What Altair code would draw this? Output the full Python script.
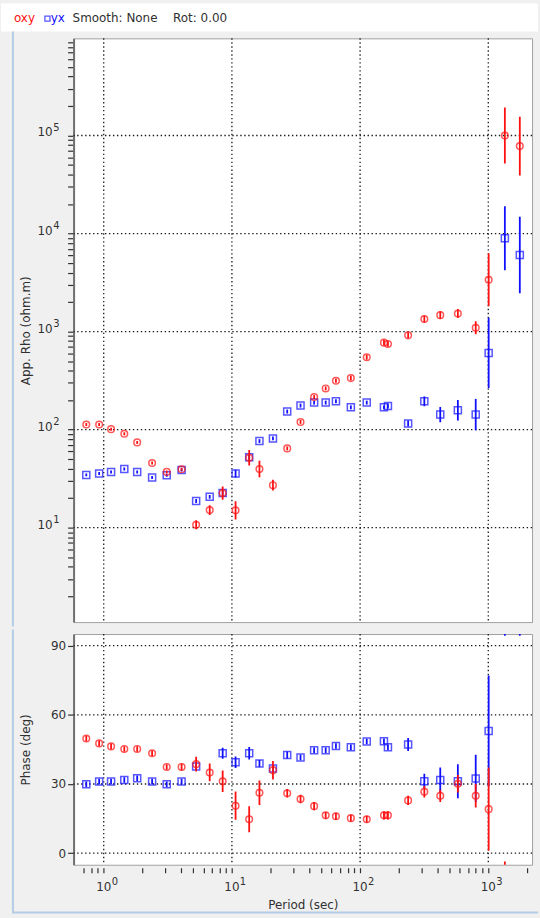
import altair as alt
import pandas as pd

# ---- sounding data -------------------------------------------------------
periods = [0.731, 0.921, 1.141, 1.447, 1.824, 2.385, 3.10, 4.05, 5.26, 6.71,
           8.47, 10.68, 13.64, 16.4, 20.9, 27.0, 34.3, 43.8, 53.9, 64.8,
           84.7, 112.7, 153.5, 164.9, 237, 317, 422, 579, 798, 1007, 1347, 1762]

# apparent resistivity (ohm.m) and its half error in decades
rho_xy = [112.8, 112.8, 101, 90.6, 74, 45.6, 37, 39.4, 10.7, 15.1,
          22.5, 15.0, 51.6, 39.6, 27.1, 64.3, 119.7, 214.7, 263, 315,
          335, 547, 771, 748, 915, 1341, 1471, 1529, 1094, 3381, 100000, 78000]
rho_xy_err = [0.015, 0.015, 0.015, 0.015, 0.015, 0.015, 0.015, 0.015, 0.045, 0.05,
              0.067, 0.093, 0.08, 0.085, 0.055, 0.02, 0.02, 0.02, 0.02, 0.02,
              0.025, 0.025, 0.03, 0.03, 0.03, 0.035, 0.04, 0.045, 0.066, 0.27, 0.285, 0.30]
rho_yx = [34.5, 35.6, 37, 39.7, 37, 32.4, 34.2, 38.7, 18.7, 20.6,
          22.5, 35.6, 52.1, 76.3, 81.3, 152.7, 175.8, 188.5, 188.5, 194.2,
          168.6, 188.5, 168.6, 174.2, 115.4, 194.2, 142.2, 157.3, 142.2, 605, 8950, 6050]
rho_yx_err = [0.015, 0.015, 0.015, 0.015, 0.015, 0.015, 0.015, 0.015, 0.02, 0.02,
              0.03, 0.04, 0.025, 0.02, 0.02, 0.02, 0.02, 0.02, 0.02, 0.02,
              0.02, 0.02, 0.02, 0.025, 0.03, 0.05, 0.078, 0.105, 0.16, 0.36, 0.326, 0.39]

# impedance phase (deg) and its half error
phase_xy = [49.7, 47.6, 46.3, 45.2, 45.2, 43.3, 37.4, 37.4, 38.6, 35.0,
            31.2, 20.6, 14.7, 26.2, 36.0, 26.0, 23.5, 20.4, 16.4, 16.0,
            15.2, 14.7, 16.4, 16.4, 22.9, 26.6, 24.9, 30.1, 24.9, 19.1, -20.0, -40.0]
phase_xy_err = [1.2, 1.2, 1.2, 1.2, 1.2, 1.2, 1.2, 1.5, 3.2, 3.85,
                4.7, 6.15, 5.65, 5.3, 4.0, 1.8, 1.8, 1.8, 1.5, 1.5,
                1.5, 1.5, 1.8, 1.8, 2.0, 2.5, 2.65, 3.8, 5.05, 18.0, 16.4, 10.0]
phase_yx = [29.9, 31.1, 31.1, 31.7, 32.5, 31.1, 29.9, 31.1, 37.6, None,
            43.3, 39.4, 43.3, 38.9, 36.7, 42.6, 41.5, 44.6, 44.6, 46.5,
            45.9, 48.4, 48.5, 45.9, 47.1, 31.2, 31.7, 31.2, 32.4, 53.0, 115.0, 115.0]
phase_yx_err = [1.2, 1.2, 1.2, 1.2, 1.2, 1.2, 1.2, 1.2, 1.5, 0.0,
                2.4, 2.5, 2.7, 1.5, 1.5, 1.5, 1.2, 1.2, 1.2, 1.2,
                1.2, 1.2, 1.2, 1.2, 2.8, 3.25, 5.4, 7.4, 10.25, 24.0, 20.7, 20.7]

# ---- axes ------------------------------------------------------------------
x_decades = [1, 10, 100, 1000]
x_exponents = ["0", "1", "2", "3"]
rho_decades = [10, 100, 1000, 10000, 100000]
rho_exponents = ["1", "2", "3", "4", "5"]
phase_ticks = [0, 30, 60, 90]

x_ticks = [m * d for d in [0.1, 1, 10, 100, 1000] for m in range(1, 10)]
x_ticks = [t for t in x_ticks if 0.65 <= t <= 2100]
rho_ticks = [m * d for d in [1, 10, 100, 1000, 10000, 100000] for m in range(1, 10)]
rho_ticks = [t for t in rho_ticks if 1.5 <= t <= 960000]

RED = "#ff1010"
BLUE = "#1010ff"
TXT = "#303030"
FONT = "DejaVu Sans"
W = 461
H_RHO = 587
H_PH = 232

x_scale = alt.Scale(type="log", domain=[0.582, 2195], nice=False)
rho_scale = alt.Scale(type="log", domain=[1.087, 980000], nice=False)
ph_scale = alt.Scale(domain=[-5, 95], nice=False)

rho_axis = alt.Axis(
    values=rho_ticks, labels=False,
    grid=False, tickSize=6, tickColor=TXT, tickWidth=1.2,
    domainColor="#707070", domainWidth=2,
    title="App. Rho (ohm.m)", titleFont=FONT, titleFontSize=12,
    titleFontWeight="normal", titleColor=TXT, titleAngle=270,
    titleX=-48, titleY=H_RHO / 2, titleAlign="center", titleBaseline="middle",
)
ph_axis = alt.Axis(
    values=phase_ticks, grid=False, tickSize=6, tickColor=TXT, tickWidth=1.2,
    domainColor="#707070", domainWidth=2,
    labelFont=FONT, labelFontSize=12, labelColor=TXT, labelPadding=2,
    labelBaseline="middle", labelOverlap=False, labelFlush=False,
    title="Phase (deg)", titleFont=FONT, titleFontSize=12,
    titleFontWeight="normal", titleColor=TXT, titleAngle=270,
    titleX=-48, titleY=H_PH / 2, titleAlign="center", titleBaseline="middle",
)
x_axis = alt.Axis(
    values=x_ticks, labels=False,
    grid=False, domain=False, offset=3, tickSize=5, tickColor=TXT, tickWidth=1.2,
    title="Period (sec)", titleFont=FONT, titleFontSize=12,
    titleFontWeight="normal", titleColor=TXT, titlePadding=26,
)

# ---- tables ----------------------------------------------------------------
rows_rho, rows_ph = [], []
for comp, vals, errs in [("yx", rho_yx, rho_yx_err), ("xy", rho_xy, rho_xy_err)]:
    for p, v, e in zip(periods, vals, errs):
        rows_rho.append({"period": p, "value": v, "lo": v / 10 ** e,
                         "hi": v * 10 ** e, "comp": comp})
for comp, vals, errs in [("yx", phase_yx, phase_yx_err), ("xy", phase_xy, phase_xy_err)]:
    for p, v, e in zip(periods, vals, errs):
        if v is None:
            continue
        rows_ph.append({"period": p, "value": v, "lo": v - e, "hi": v + e, "comp": comp})
rho_df = pd.DataFrame(rows_rho)
ph_df = pd.DataFrame(rows_ph)

xgrid_df = pd.DataFrame({"period": x_decades, "base": "10", "exp": x_exponents})
rho_grid_df = pd.DataFrame({"value": rho_decades, "base": "10", "exp": rho_exponents})
ph_grid_df = pd.DataFrame({"value": phase_ticks})
one_row = pd.DataFrame({"k": [0]})

GRID = dict(color="#1a1a1a", strokeDash=[1.4, 2.6], strokeWidth=1.3)
BORDER = "#b4cde6"


def data_layers(df, yscale, yaxis, xaxis):
    x = alt.X("period:Q", scale=x_scale, axis=xaxis)
    layers = []
    for comp, color, shape, size in [("yx", BLUE, "square", 50), ("xy", RED, "circle", 44)]:
        sub = df[df["comp"] == comp]
        bars = alt.Chart(sub).mark_rule(color=color, strokeWidth=1.8, clip=True).encode(
            x=x, y=alt.Y("lo:Q", scale=yscale, axis=yaxis), y2="hi:Q")
        pts = alt.Chart(sub).mark_point(shape=shape, size=size, filled=False,
                                        color=color, strokeWidth=1.5, clip=True).encode(
            x=x, y=alt.Y("value:Q", scale=yscale, axis=yaxis))
        layers += [bars, pts]
    return layers


def text_item(label, color, xpos):
    return alt.Chart(one_row).mark_text(
        text=label, color=color, font=FONT, fontSize=12, align="left",
        baseline="alphabetic").encode(x=alt.value(xpos), y=alt.value(-16))


# ---- apparent resistivity panel -------------------------------------------
strip = alt.Chart(one_row).mark_rect(color="white").encode(
    x=alt.value(-73), x2=alt.value(467), y=alt.value(-35), y2=alt.value(-7))
edge_top = alt.Chart(one_row).mark_rule(color=BORDER, strokeWidth=2).encode(
    x=alt.value(-61), y=alt.value(-7), y2=alt.value(H_RHO + 4.5))
vgrid_top = alt.Chart(xgrid_df).mark_rule(**GRID).encode(
    x=alt.X("period:Q", scale=x_scale, axis=None))
hgrid_rho = alt.Chart(rho_grid_df).mark_rule(**GRID).encode(
    y=alt.Y("value:Q", scale=rho_scale, axis=rho_axis))
rho_lab_base = alt.Chart(rho_grid_df).mark_text(
    font=FONT, fontSize=12, color=TXT, align="right", baseline="alphabetic", dy=1).encode(
    y=alt.Y("value:Q", scale=rho_scale, axis=rho_axis), x=alt.value(-21), text="base:N")
rho_lab_exp = alt.Chart(rho_grid_df).mark_text(
    font=FONT, fontSize=10, color=TXT, align="left", baseline="alphabetic", dy=-5).encode(
    y=alt.Y("value:Q", scale=rho_scale, axis=rho_axis), x=alt.value(-20.5), text="exp:N")
legend_sq = alt.Chart(one_row).mark_point(
    shape="square", size=26, filled=False, color=BLUE, strokeWidth=1.3).encode(
    x=alt.value(-26.3), y=alt.value(-19.8))

rho_panel = alt.layer(
    strip, edge_top, vgrid_top, hgrid_rho, rho_lab_base, rho_lab_exp,
    *data_layers(rho_df, rho_scale, rho_axis, None),
    text_item("oxy", RED, -60), legend_sq, text_item("yx", BLUE, -23),
    text_item("Smooth: None", TXT, -1), text_item("Rot: 0.00", TXT, 100),
).properties(width=W, height=H_RHO)

# ---- phase panel -----------------------------------------------------------
edge_bot = alt.Chart(one_row).mark_rule(color=BORDER, strokeWidth=2).encode(
    x=alt.value(-61), y=alt.value(-4.5), y2=alt.value(281))
edge_base = alt.Chart(one_row).mark_rule(color=BORDER, strokeWidth=2).encode(
    x=alt.value(-61), x2=alt.value(467), y=alt.value(280))
vgrid_ph = alt.Chart(xgrid_df).mark_rule(**GRID).encode(
    x=alt.X("period:Q", scale=x_scale, axis=x_axis))
hgrid_ph = alt.Chart(ph_grid_df).mark_rule(**GRID).encode(
    y=alt.Y("value:Q", scale=ph_scale, axis=ph_axis))
x_lab_base = alt.Chart(xgrid_df).mark_text(
    font=FONT, fontSize=12, color=TXT, align="center", baseline="alphabetic").encode(
    x=alt.X("period:Q", scale=x_scale, axis=x_axis), y=alt.value(H_PH + 26), text="base:N")
x_lab_exp = alt.Chart(xgrid_df).mark_text(
    font=FONT, fontSize=10, color=TXT, align="left", baseline="alphabetic", dx=8).encode(
    x=alt.X("period:Q", scale=x_scale, axis=x_axis), y=alt.value(H_PH + 20), text="exp:N")

phase_panel = alt.layer(
    edge_bot, edge_base, vgrid_ph, hgrid_ph, x_lab_base, x_lab_exp,
    *data_layers(ph_df, ph_scale, ph_axis, x_axis),
).properties(width=W, height=H_PH)

chart = alt.vconcat(rho_panel, phase_panel, spacing=0).properties(
    padding=0, background="#f0f0f0",
).configure_view(stroke="#a0a0a0", strokeWidth=1, fill="white")

chart.save("out.html", embed_options={"renderer": "svg", "actions": False})
